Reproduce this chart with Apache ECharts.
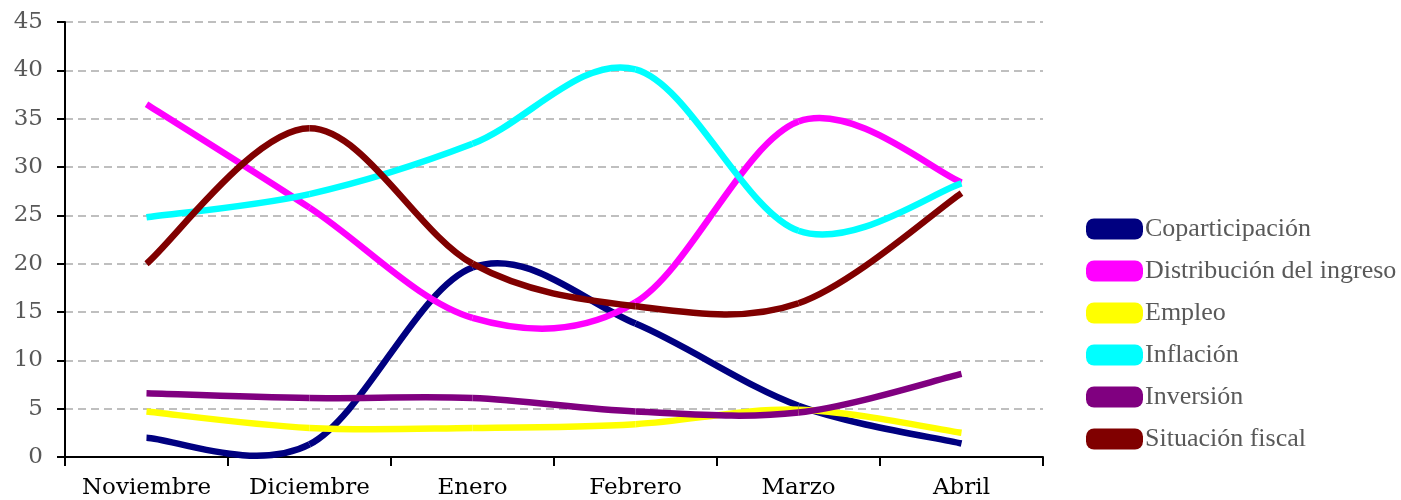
<!DOCTYPE html>
<html><head><meta charset="utf-8">
<script src="https://cdn.jsdelivr.net/npm/echarts@6/dist/echarts.min.js"></script>
<style>html,body{margin:0;padding:0;background:#fff}#c{width:1401px;height:500px}</style>
</head><body><div id="c"></div>
<script>
const categories = ['Noviembre', 'Diciembre', 'Enero', 'Febrero', 'Marzo', 'Abril'];
const coparticipacion = [2.0, 1.3, 19.6, 13.8, 5.3, 1.4];
const distribucion = [36.5, 25.8, 14.4, 16.0, 34.7, 28.4];
const empleo = [4.7, 3.0, 3.0, 3.4, 4.9, 2.5];
const inflacion = [24.8, 27.2, 32.4, 40.1, 23.4, 28.3];
const inversion = [6.6, 6.1, 6.1, 4.7, 4.6, 8.6];
const situacionFiscal = [20.0, 34.0, 20.0, 15.6, 15.9, 27.3];
const seriesNames = ['Coparticipación', 'Distribución del ingreso', 'Empleo', 'Inflación', 'Inversión', 'Situación fiscal'];
const seriesColors = ['#000080', '#FF00FF', '#FFFF00', '#00FFFF', '#800080', '#800000'];
const yMin = 0, yMax = 45, yStep = 5;

const seriesData = [coparticipacion, distribucion, empleo, inflacion, inversion, situacionFiscal];

// Smoothed line (Catmull-Rom style, like a spreadsheet "smoothed line") drawn through the axis scales
function smoothRenderer(color) {
  return function (params, api) {
    const i = params.dataIndexInside;
    const n = params.dataInsideLength;
    if (i >= n - 1) return null;
    const p = k => {
      const j = Math.max(0, Math.min(n - 1, k));
      return api.coord([api.value(0, j), api.value(1, j)]);
    };
    const p0 = p(i - 1), p1 = p(i), p2 = p(i + 1), p3 = p(i + 2);
    return {
      type: 'bezierCurve',
      silent: true,
      shape: {
        x1: p1[0], y1: p1[1],
        cpx1: p1[0] + (p2[0] - p0[0]) / 6, cpy1: p1[1] + (p2[1] - p0[1]) / 6,
        cpx2: p2[0] - (p3[0] - p1[0]) / 6, cpy2: p2[1] - (p3[1] - p1[1]) / 6,
        x2: p2[0], y2: p2[1]
      },
      style: {stroke: color, lineWidth: 6.5, fill: null, lineCap: 'butt'}
    };
  };
}

const chart = echarts.init(document.getElementById('c'), null, {renderer: 'canvas'});
chart.setOption({
  animation: false,
  color: seriesColors,
  grid: {left: 65, right: 358, top: 22, bottom: 43, containLabel: false},
  legend: {
    orient: 'vertical', left: 1086, top: 216, padding: 0,
    itemWidth: 57, itemHeight: 21, itemGap: 16,
    icon: 'path://M8,0H49A8,8,0,0,1,57,8V13A8,8,0,0,1,49,21H8A8,8,0,0,1,0,13V8A8,8,0,0,1,8,0Z',
    textStyle: {fontFamily: 'Liberation Serif', fontSize: 26, color: '#595959', padding: [0, 0, 0, -3]},
    data: seriesNames
  },
  xAxis: {
    type: 'category', data: categories, boundaryGap: true,
    axisLine: {lineStyle: {color: '#000', width: 2}},
    axisTick: {show: true, length: 9, lineStyle: {color: '#000', width: 2}, interval: 0},
    axisLabel: {fontFamily: 'DejaVu Serif', fontSize: 23, color: '#000', margin: 20, interval: 0},
    splitLine: {show: false}
  },
  yAxis: {
    type: 'value', min: yMin, max: yMax, interval: yStep,
    axisLine: {show: true, lineStyle: {color: '#000', width: 2}},
    axisTick: {show: true, length: 8, lineStyle: {color: '#000', width: 2}},
    axisLabel: {fontFamily: 'DejaVu Serif', fontSize: 23, color: '#595959', margin: 22},
    splitLine: {show: true, lineStyle: {color: '#AAAAAA', width: 1.5, type: [8, 5]}}
  },
  series: seriesNames.map((n, i) => ({
    name: n, type: 'custom', coordinateSystem: 'cartesian2d',
    data: seriesData[i].map((v, k) => [k, v]),
    encode: {x: 0, y: 1},
    renderItem: smoothRenderer(seriesColors[i]),
    itemStyle: {color: seriesColors[i]}
  }))
});
</script></body></html>
